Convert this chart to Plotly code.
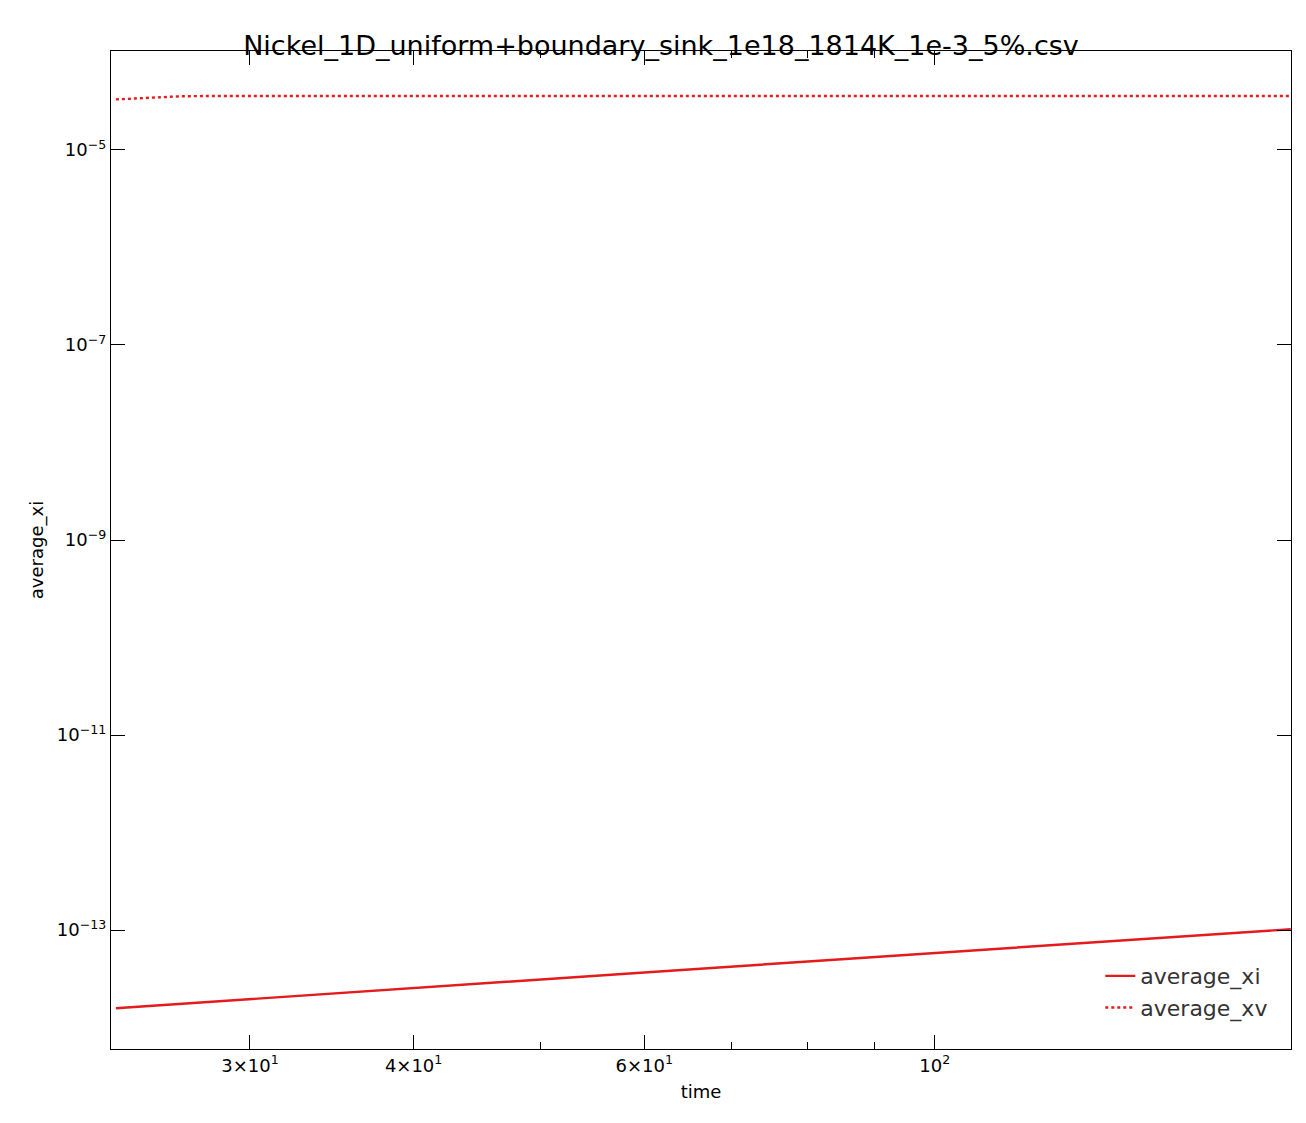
import plotly.graph_objects as go

# data
time = [23.7, 25.0, 26.5, 28.0, 30.0, 35.0, 40.0, 50.0, 60.0, 80.0, 100.0, 130.0, 160.0, 187.0]
average_xi = [1.58e-14, 1.66e-14, 1.75e-14, 1.84e-14, 1.95e-14, 2.25e-14, 2.54e-14, 3.11e-14,
              3.67e-14, 4.76e-14, 5.83e-14, 7.40e-14, 8.90e-14, 1.02e-13]
average_xv = [3.30e-5, 3.40e-5, 3.55e-5, 3.58e-5, 3.58e-5, 3.58e-5, 3.58e-5, 3.58e-5,
              3.58e-5, 3.58e-5, 3.58e-5, 3.58e-5, 3.58e-5, 3.58e-5]

x_tickvals = [30, 40, 60, 100]
x_ticktext = ["3×10<sup>1</sup>", "4×10<sup>1</sup>", "6×10<sup>1</sup>", "10<sup>2</sup>"]
y_tickvals = [1e-13, 1e-11, 1e-9, 1e-7, 1e-5]
y_ticktext = ["10<sup>−13</sup>", "10<sup>−11</sup>", "10<sup>−9</sup>", "10<sup>−7</sup>", "10<sup>−5</sup>"]

fig = go.Figure()
fig.add_trace(go.Scatter(x=time, y=average_xi, mode="lines", name="average_xi",
                         line=dict(color="#e41a1c", width=2.4)))
fig.add_trace(go.Scatter(x=time, y=average_xv, mode="lines", name="average_xv",
                         line=dict(color="#e41a1c", width=2.4, dash="dot")))

axis_common = dict(showline=True, linecolor="black", linewidth=1.3, mirror="ticks",
                   ticks="inside", ticklen=14, tickwidth=1.3, tickcolor="black",
                   showgrid=False, zeroline=False, tickfont=dict(size=18, color="black"))

fig.update_layout(
    width=1306, height=1123,
    paper_bgcolor="white", plot_bgcolor="white",
    font=dict(family="DejaVu Sans", color="black"),
    title=dict(text="Nickel_1D_uniform+boundary_sink_1e18_1814K_1e-3_5%.csv",
               x=0.5, xanchor="center", y=0.975, font=dict(size=27)),
    margin=dict(l=103, r=23, t=43, b=82),
    xaxis=dict(type="log", range=[1.371, 2.272], tickvals=x_tickvals, ticktext=x_ticktext,
               title=dict(text="time", font=dict(size=18), standoff=10),
               minor=dict(ticks="inside", ticklen=7, tickcolor="black", tickvals=[50, 70, 80, 90]),
               **axis_common),
    yaxis=dict(type="log", range=[-14.22, -3.985], tickvals=y_tickvals, ticktext=y_ticktext,
               title=dict(text="average_xi", font=dict(size=18), standoff=8),
               **axis_common),
    legend=dict(x=0.985, y=0.02, xanchor="right", yanchor="bottom",
                bgcolor="rgba(255,255,255,0)", font=dict(size=22, color="#333")),
)

fig.write_html("out.html")
